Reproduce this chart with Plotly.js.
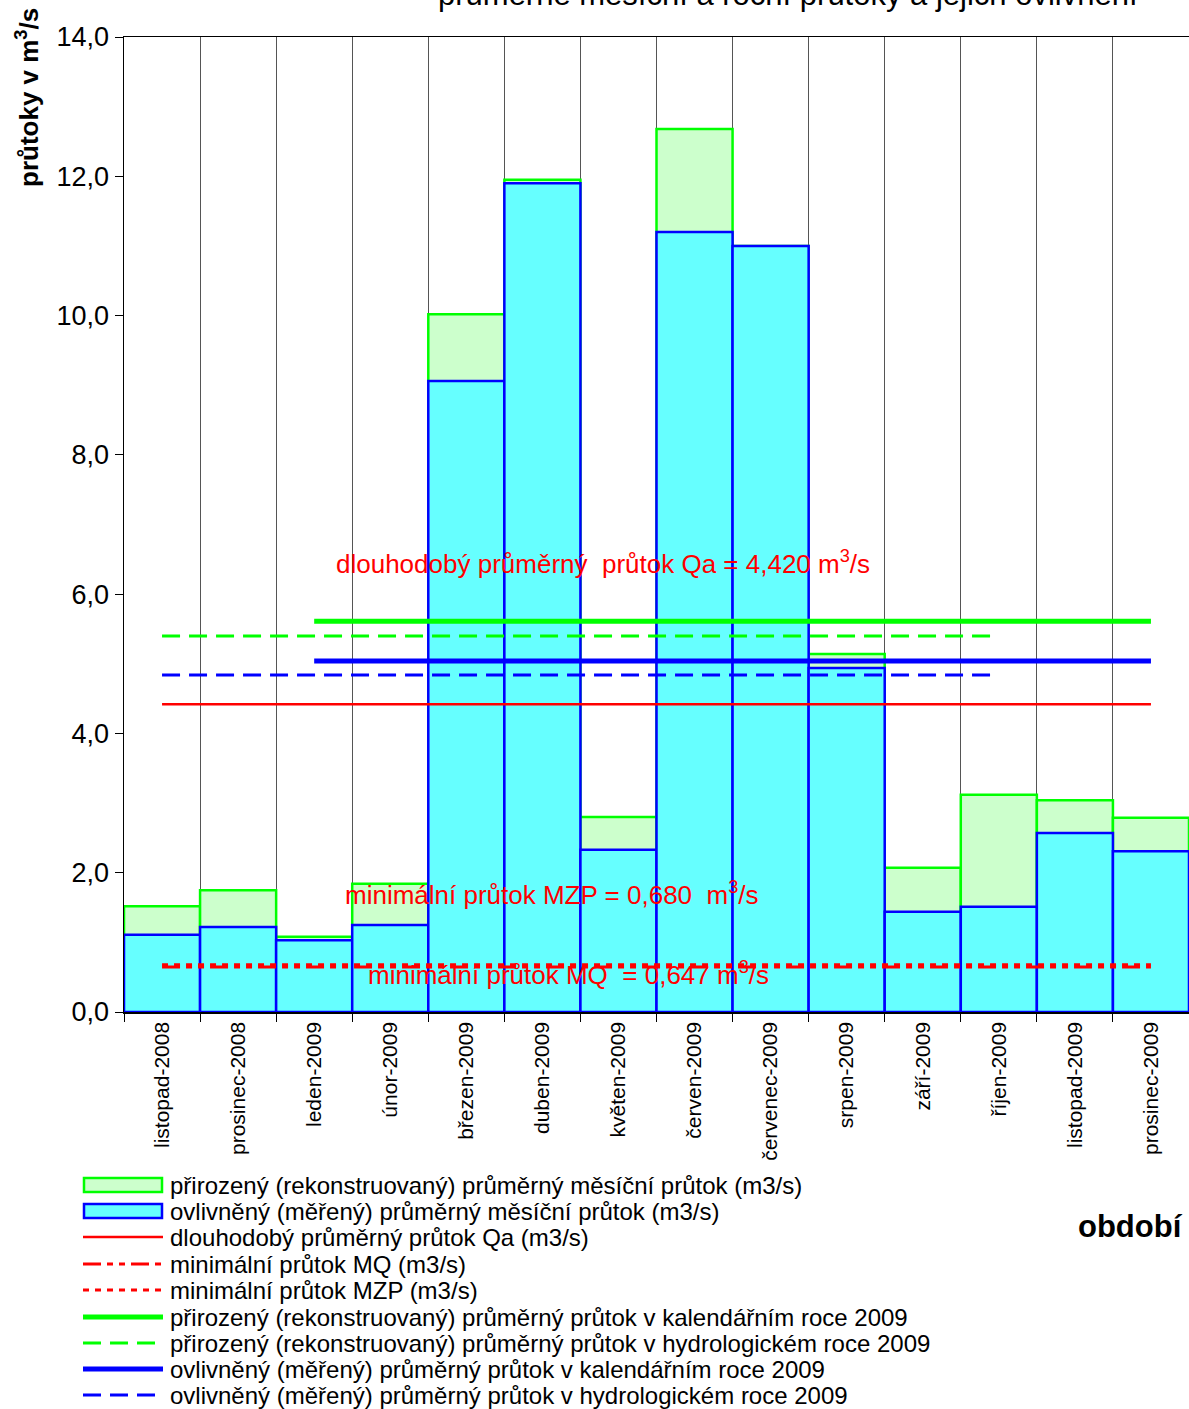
<!DOCTYPE html>
<html><head><meta charset="utf-8">
<script src="https://cdn.plot.ly/plotly-3.0.1.min.js"></script>
<style>html,body{margin:0;padding:0;background:#fff;}#chart{width:1189px;height:1409px;}</style>
</head><body><div id="chart"></div>
<script>
// ---- data ----
const months = ["listopad-2008","prosinec-2008","leden-2009","únor-2009","březen-2009","duben-2009","květen-2009","červen-2009","červenec-2009","srpen-2009","září-2009","říjen-2009","listopad-2009","prosinec-2009"];
const natural = [1.52,1.75,1.08,1.84,10.02,11.95,2.80,12.68,11.00,5.14,2.07,3.12,3.04,2.79];
const measured = [1.11,1.22,1.03,1.25,9.06,11.90,2.33,11.20,11.00,4.94,1.44,1.51,2.57,2.31];
const Qa = 4.420;
const MQ = 0.647;
const MZP = 0.680;
const naturalCalendar = 5.61;
const naturalHydro = 5.40;
const measuredCalendar = 5.04;
const measuredHydro = 4.84;
const hydroYear = ["listopad-2008","říjen-2009"];
const calendarYear = ["leden-2009","prosinec-2009"];
const fullSpan = ["listopad-2008","prosinec-2009"];
const legendLabels = [
 "přirozený (rekonstruovaný) průměrný měsíční průtok (m3/s)",
 "ovlivněný (měřený) průměrný měsíční průtok (m3/s)",
 "dlouhodobý průměrný průtok Qa (m3/s)",
 "minimální průtok MQ (m3/s)",
 "minimální průtok MZP (m3/s)",
 "přirozený (rekonstruovaný) průměrný průtok v kalendářním roce 2009",
 "přirozený (rekonstruovaný) průměrný průtok v hydrologickém roce 2009",
 "ovlivněný (měřený) průměrný průtok v kalendářním roce 2009",
 "ovlivněný (měřený) průměrný průtok v hydrologickém roce 2009"
];

// ---- geometry helpers (page px -> paper) ----
const L=124, R=0, T=37, B=397, W=1189, H=1409;
const pw=W-L-R, ph=H-T-B;
const px=x=>(x-L)/pw, py=y=>(H-B-y)/ph;

const FONT="Arial, 'Liberation Sans', sans-serif";
const RED="#FF0000";

function hline(span,v,color,width,dash){
  return {type:'scatter',mode:'lines',x:span,y:[v,v],line:{color:color,width:width,dash:dash},hoverinfo:'skip',showlegend:false};
}

const traces = [
 {type:'bar',x:months,y:natural,marker:{color:'#CCFFCC',line:{color:'#00FF00',width:2.5}},showlegend:false},
 {type:'bar',x:months,y:measured,marker:{color:'#66FFFF',line:{color:'#0000FF',width:2.5}},showlegend:false},
 hline(fullSpan,Qa,RED,2.5,'solid'),
 hline(fullSpan,MZP,RED,3,'6px,6px'),
 hline(fullSpan,MQ,RED,3,'18px,6px,6px,6px,6px,6px'),
 hline(hydroYear,naturalHydro,'#00FF00',3,'18px,9px'),
 hline(hydroYear,measuredHydro,'#0000FF',3,'18px,9px'),
 hline(calendarYear,naturalCalendar,'#00FF00',5,'solid'),
 hline(calendarYear,measuredCalendar,'#0000FF',5,'solid')
];

const shapes=[], annotations=[];
// legend
const rows=[1185,1211,1237,1264,1290,1317,1343,1369,1395];
const sw=[
 {kind:'box',fill:'#CCFFCC',line:'#00FF00'},
 {kind:'box',fill:'#66FFFF',line:'#0000FF'},
 {kind:'line',color:RED,width:2.5,dash:'solid'},
 {kind:'line',color:RED,width:3,dash:'18px,6px,6px,6px,6px,6px'},
 {kind:'line',color:RED,width:3,dash:'6px,6px'},
 {kind:'line',color:'#00FF00',width:5,dash:'solid'},
 {kind:'line',color:'#00FF00',width:3,dash:'18px,9px'},
 {kind:'line',color:'#0000FF',width:5,dash:'solid'},
 {kind:'line',color:'#0000FF',width:3,dash:'18px,9px'}
];
rows.forEach((y,i)=>{
  const s=sw[i];
  if(s.kind==='box'){
    shapes.push({type:'rect',xref:'paper',yref:'paper',x0:px(84),x1:px(162),y0:py(y-7),y1:py(y+7),fillcolor:s.fill,line:{color:s.line,width:2.5}});
  } else {
    shapes.push({type:'line',xref:'paper',yref:'paper',x0:px(83),x1:px(163),y0:py(y),y1:py(y),line:{color:s.color,width:s.width,dash:s.dash}});
  }
  annotations.push({xref:'paper',yref:'paper',x:px(168),y:py(y),xanchor:'left',yanchor:'middle',showarrow:false,text:legendLabels[i],font:{family:FONT,size:24,color:'#000'}});
});

annotations.push(
 {xref:'paper',yref:'paper',x:px(603),y:py(562),xanchor:'center',yanchor:'middle',showarrow:false,text:'dlouhodobý průměrný  průtok Qa = 4,420 m<sup>3</sup>/s',font:{family:FONT,size:26,color:RED}},
 {xref:'paper',yref:'paper',x:px(552),y:py(893),xanchor:'center',yanchor:'middle',showarrow:false,text:'minimální průtok MZP = 0,680  m<sup>3</sup>/s',font:{family:FONT,size:26,color:RED}},
 {xref:'paper',yref:'paper',x:px(568),y:py(973),xanchor:'center',yanchor:'middle',showarrow:false,text:'minimální průtok MQ  = 0,647 m<sup>3</sup>/s',font:{family:FONT,size:26,color:RED}},
 {xref:'paper',yref:'paper',x:px(27),y:py(98),xanchor:'center',yanchor:'middle',textangle:-90,showarrow:false,text:'<b>průtoky v m<sup>3</sup>/s</b>',font:{family:FONT,size:26,color:'#000'}},
 {xref:'paper',yref:'paper',x:px(1185),y:py(1226),xanchor:'right',yanchor:'middle',showarrow:false,text:'<b>období</b>',font:{family:FONT,size:31,color:'#000'}},
 {xref:'paper',yref:'paper',x:px(788),y:py(-6),xanchor:'center',yanchor:'middle',showarrow:false,text:'průměrné měsíční a roční průtoky a jejich ovlivnění',font:{family:FONT,size:31,color:'#000'}}
);

const layout={
 width:W,height:H,
 margin:{l:L,r:R,t:T,b:B},
 paper_bgcolor:'#fff',plot_bgcolor:'#fff',
 barmode:'overlay',bargap:0,
 separators:', ',
 showlegend:false,
 font:{family:FONT,color:'#000'},
 xaxis:{type:'category',categoryorder:'array',categoryarray:months,tickson:'boundaries',
   ticks:'outside',ticklen:8,tickcolor:'#000',showgrid:true,gridcolor:'#555',gridwidth:1,
   showline:true,linecolor:'#000',linewidth:1.5,mirror:true,tickangle:-90,
   tickfont:{family:FONT,size:21,color:'#000'},zeroline:false,range:[-0.5,13.5]},
 yaxis:{range:[0,14],dtick:2,tick0:0,tickformat:'.1f',ticks:'outside',ticklen:8,tickcolor:'#000',
   showgrid:false,zeroline:false,showline:true,linecolor:'#000',linewidth:1.5,
   tickfont:{family:FONT,size:27,color:'#000'}},
 shapes:shapes,annotations:annotations
};
Plotly.newPlot('chart',traces,layout,{displayModeBar:false,staticPlot:true});
</script></body></html>
